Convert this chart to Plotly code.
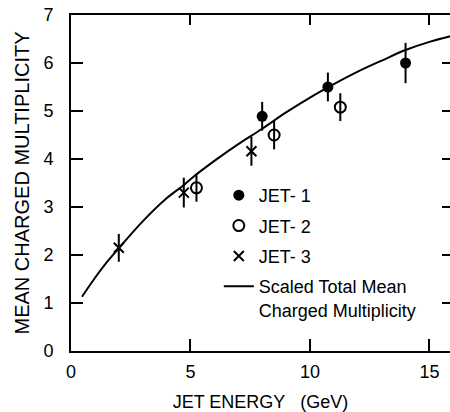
import plotly.graph_objects as go

# JET-1 (filled circles)
jet1_E = [8.0, 10.75, 14.0]
jet1_n = [4.89, 5.50, 6.00]
jet1_err = [0.30, 0.30, 0.42]

# JET-2 (open circles)
jet2_E = [5.25, 8.5, 11.27]
jet2_n = [3.40, 4.50, 5.08]
jet2_err = [0.29, 0.30, 0.29]

# JET-3 (crosses)
jet3_E = [2.0, 4.72, 7.55]
jet3_n = [2.15, 3.30, 4.16]
jet3_err = [0.29, 0.31, 0.30]

# Scaled total mean charged multiplicity (curve)
curve_E = [0.46, 1.0, 1.5, 2.0, 3.0, 4.0, 4.7, 5.0, 6.0, 7.0, 8.0, 9.0, 10.0,
           11.0, 12.0, 13.0, 14.0, 15.0, 15.9]
curve_n = [1.13, 1.52, 1.85, 2.14, 2.70, 3.18, 3.45, 3.58, 3.96, 4.31, 4.63,
           4.97, 5.28, 5.56, 5.82, 6.05, 6.27, 6.44, 6.56]

x_ticks = [0, 5, 10, 15]
y_ticks = [0, 1, 2, 3, 4, 5, 6, 7]

FONT = "Liberation Sans, Arial, sans-serif"

fig = go.Figure()

err_style = dict(type="data", visible=True, color="black", thickness=2, width=0)

fig.add_trace(go.Scatter(
    x=jet1_E, y=jet1_n, mode="markers", name="JET- 1", legendgroup="g1",
    marker=dict(symbol="circle", size=11, color="black"),
    error_y=dict(array=jet1_err, **err_style),
))
fig.add_trace(go.Scatter(
    x=jet2_E, y=jet2_n, mode="markers", name="JET- 2", legendgroup="g2",
    marker=dict(symbol="circle-open", size=11, color="black", line=dict(width=2, color="black")),
    error_y=dict(array=jet2_err, **err_style),
))
fig.add_trace(go.Scatter(
    x=jet3_E, y=jet3_n, mode="markers", name="JET- 3", legendgroup="g3",
    marker=dict(symbol="x-thin", size=10, color="black", line=dict(width=2, color="black")),
    error_y=dict(array=jet3_err, **err_style),
))
fig.add_trace(go.Scatter(
    x=curve_E, y=curve_n, mode="lines", name="Scaled Total Mean<br>Charged Multiplicity",
    legendgroup="g4", line=dict(color="black", width=2, shape="spline"),
))
# invisible trace for the mirrored (top/right) axes
fig.add_trace(go.Scatter(x=[0], y=[0], xaxis="x2", yaxis="y2", mode="markers",
                         marker=dict(opacity=0), showlegend=False, hoverinfo="skip"))

fig.update_layout(
    width=450, height=412,
    margin=dict(l=71, r=0, t=15, b=61, autoexpand=False),
    paper_bgcolor="white", plot_bgcolor="white",
    font=dict(family=FONT, color="black", size=18),
    showlegend=True,
    legend=dict(x=0.39, y=0.518, xanchor="left", yanchor="top",
                bgcolor="rgba(0,0,0,0)", font=dict(size=18, family=FONT),
                tracegroupgap=4, valign="top"),
    xaxis=dict(range=[0, 15.86], tickvals=x_ticks, ticks="inside", ticklen=12,
               tickwidth=1.5, tickcolor="black", showline=True, linecolor="black",
               linewidth=2, showgrid=False, zeroline=False, automargin=False,
               ticklabelstandoff=3,
               title=dict(text="JET ENERGY\u00a0\u00a0\u00a0(GeV)", standoff=16, font=dict(size=18)),
               tickfont=dict(size=18)),
    yaxis=dict(range=[0, 7], tickvals=y_ticks, ticks="inside", ticklen=12,
               tickwidth=1.5, tickcolor="black", showline=True, linecolor="black",
               linewidth=2, showgrid=False, zeroline=False, automargin=False,
               ticklabelstandoff=12,
               title=dict(text="MEAN CHARGED MULTIPLICITY", standoff=8, font=dict(size=20)),
               tickfont=dict(size=18)),
    xaxis2=dict(overlaying="x", side="top", matches="x", range=[0, 15.86],
                tickvals=[5, 10, 15], ticks="inside", ticklen=10, tickwidth=1.5,
                tickcolor="black", showticklabels=False, showline=True,
                linecolor="black", linewidth=2, showgrid=False, zeroline=False,
                automargin=False),
    yaxis2=dict(overlaying="y", side="right", matches="y", range=[0, 7],
                tickvals=[1, 2, 3, 4, 5, 6], ticks="inside", ticklen=8, tickwidth=1.5,
                tickcolor="black", showticklabels=False, showline=False,
                showgrid=False, zeroline=False, automargin=False),
)

fig.write_html("out.html", config={"displayModeBar": False},
               post_script="document.body.style.margin='0';document.body.style.overflow='hidden';")
